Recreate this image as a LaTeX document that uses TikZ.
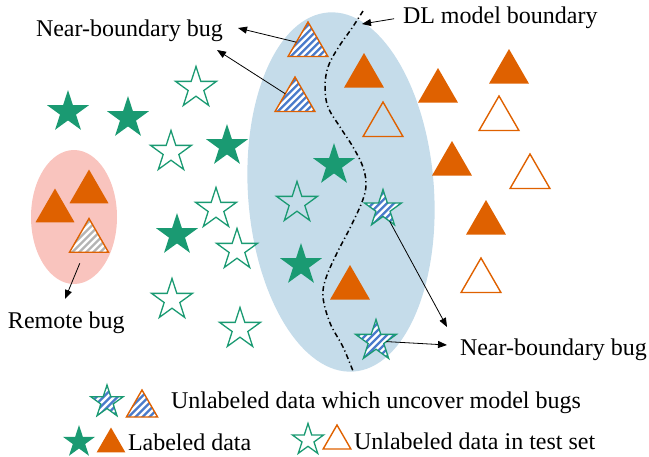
\documentclass[tikz,border=0pt]{standalone}
\usepackage{fontspec}
\setmainfont{Liberation Serif}
\usetikzlibrary{shapes.geometric,arrows.meta,calc}

\definecolor{cGreen}{HTML}{1A9A72}
\definecolor{cOrange}{HTML}{DF6100}
\definecolor{cZone}{HTML}{C5DCEA}
\definecolor{cRemote}{HTML}{F9C4BE}
\definecolor{cHatch}{HTML}{4A7BCB}
\definecolor{cGrayHatch}{HTML}{B4B4B4}

\begin{document}
\begin{tikzpicture}[x=1pt,y=-1pt,
  every node/.style={inner sep=0pt, outer sep=0pt},
  % diagonal stripes clipped to the node outline
  hatch/.style={path picture={
    \foreach \k in {-9,...,9}{
      \draw[#1, line width=2.3pt]
        ($(path picture bounding box.center)+(\k*7pt-32pt,-32pt)$) -- ++(64pt,64pt);
    }}},
  starshape/.style={star, star points=5, star point ratio=2.618, minimum size=#1},
  fstar/.style={starshape=#1, fill=cGreen},
  fstar/.default=44pt,
  ostar/.style={starshape=#1, draw=cGreen, line width=1.3pt},
  ostar/.default=43pt,
  bstar/.style={starshape=#1, draw=cGreen, line width=1.3pt, fill=white, hatch=cHatch},
  bstar/.default=43pt,
  tri/.style={regular polygon, regular polygon sides=3, minimum size=#1},
  ftri/.style={tri=#1, fill=cOrange},
  ftri/.default=46pt,
  htri/.style={tri=#1, draw=cOrange, line width=1.4pt},
  htri/.default=46pt,
  btri/.style={tri=#1, draw=cOrange, line width=1.4pt, fill=white, hatch=cHatch},
  btri/.default=46pt,
  lbl/.style={font=\fontsize{24}{28}\selectfont, anchor=base west},
  arr/.style={draw=black, line width=0.8pt, -{Triangle[length=9pt,width=7pt]}},
  boundary/.style={line width=1.5pt, dash pattern=on 5pt off 3pt on 1.2pt off 3pt}
]
\useasboundingbox (0,0) rectangle (649,456);

% regions
\node[ellipse, fill=cZone, minimum width=186pt, minimum height=360pt, rotate=4] (zone) at (341,192) {};
\node[ellipse, fill=cRemote, minimum width=86pt, minimum height=134pt] (remote) at (74,217) {};

% decision boundary of the model
\draw[boundary] plot[smooth, tension=0.6] coordinates {
  (363,11) (352,28) (338,48) (328,67) (325,87) (328,107) (340,127) (353,147)
  (363,167) (366,185) (362,202) (350,228) (337,253) (326,278) (323,297)
  (330,323) (343,347) (353,371)};

% labeled stars
\node[fstar] (s1) at (68,112) {};
\node[fstar] (s2) at (128,118) {};
\node[fstar] (s3) at (227,146) {};
\node[fstar] (s4) at (177,235) {};
\node[fstar] (s5) at (301,265) {};
\node[fstar] (s6) at (334,165) {};

% unlabeled stars
\node[ostar] (u1) at (196,88) {};
\node[ostar] (u2) at (171,152) {};
\node[ostar] (u3) at (216,209) {};
\node[ostar] (u4) at (237,250) {};
\node[ostar] (u5) at (172,300) {};
\node[ostar] (u6) at (240,329) {};
\node[ostar] (u7) at (297,203) {};

% stars that uncover bugs
\node[bstar=39pt] (b1) at (383,209) {};
\node[bstar] (b2) at (376,341) {};

% triangles
\node[btri] (t1) at (308,45) {};
\node[btri] (t2) at (295,100) {};
\node[ftri] (f1) at (364,76) {};
\node[htri] (o1) at (383,125) {};
\node[ftri] (f2) at (438,91) {};
\node[ftri] (f3) at (509,72) {};
\node[htri] (o2) at (499,119) {};
\node[ftri] (f4) at (452,164) {};
\node[htri] (o3) at (530,177) {};
\node[ftri] (f5) at (486,223) {};
\node[htri] (o4) at (481,281) {};
\node[ftri] (f6) at (350,288) {};

% remote cluster
\node[ftri=45pt] (r1) at (55,211) {};
\node[ftri=45pt] (r2) at (89,192) {};
\node[tri=45pt, draw=cOrange, line width=1.4pt, fill=white, hatch=cGrayHatch] (rg) at (89,241) {};

% labels
\node[lbl] (nbTop) at (36,36) {Near-boundary bug};
\node[lbl] (dl) at (403,23) {DL model boundary};
\node[lbl] (nbRight) at (460,355) {Near-boundary bug};
\node[lbl] (rb) at (8,328) {Remote bug};

% arrow end points
\coordinate (tipA) at (238,28);
\coordinate (tipB) at (217,50);
\coordinate (tipDL) at (362,24);
\coordinate (tipC) at (447,327);
\coordinate (tipD) at (447,345);
\coordinate (tipR) at (65,299);

\draw[arr] (t1) -- (tipA);
\draw[arr] (t2) -- (tipB);
\draw[arr, shorten <=9pt] (dl.west) -- (tipDL);
\draw[arr] (b1) -- (tipC);
\draw[arr] (b2) -- (tipD);
\draw[arr, shorten <=12pt] (rg) -- (tipR);

% legend
\node[bstar=34pt] (lgB1) at (107,402) {};
\node[btri=36pt] (lgB2) at (142,408) {};
\node[lbl] (lgBtxt) at (171,408) {Unlabeled data which uncover model bugs};

\node[fstar=34pt] (lgF1) at (79,442) {};
\node[ftri=33pt] (lgF2) at (111,444) {};
\node[lbl] (lgFtxt) at (128,450) {Labeled data};

\node[ostar=33pt] (lgO1) at (308,440) {};
\node[htri=32pt] (lgO2) at (337,441) {};
\node[lbl] (lgOtxt) at (354,449) {Unlabeled data in test set};
\end{tikzpicture}
\end{document}
